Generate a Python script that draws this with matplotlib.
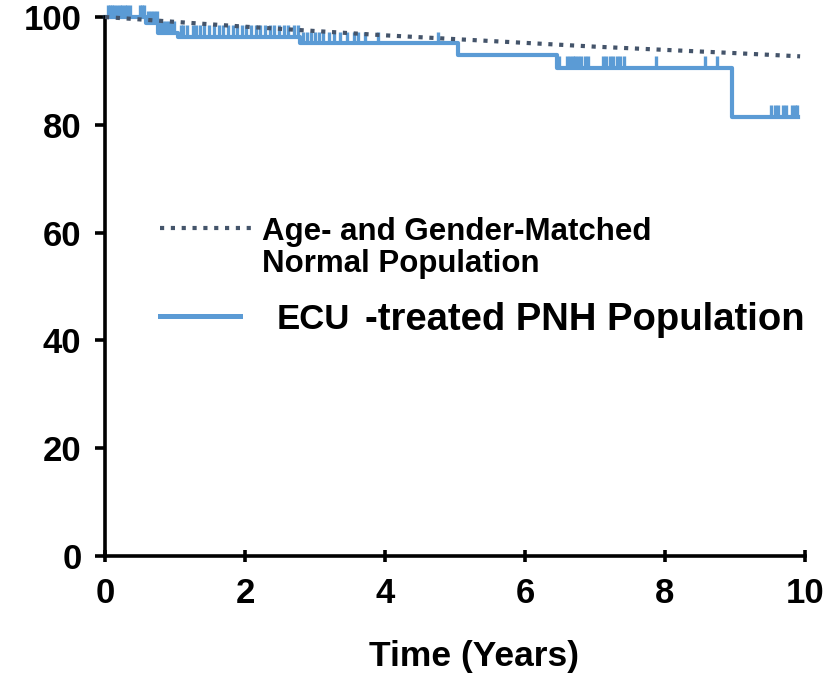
import matplotlib
matplotlib.use("Agg")
import matplotlib.pyplot as plt
import numpy as np
from matplotlib.lines import Line2D

# Kaplan-Meier curve, eculizumab-treated PNH patients
km_times = [0, 0.59, 0.76, 1.04, 2.79, 5.04, 6.45, 8.96, 9.9]
km_surv = [100, 98.9, 97.1, 96.3, 95.1, 93.0, 90.6, 81.5, 81.5]

# censored observations (years)
censor_times = [
    0.04, 0.07, 0.10, 0.13, 0.17, 0.21, 0.24, 0.28, 0.31, 0.35, 0.50, 0.53, 0.56,
    0.62, 0.66, 0.70, 0.74,
    0.79, 0.83, 0.87, 0.91, 0.95, 0.99,
    1.08, 1.12, 1.17, 1.25, 1.30, 1.36, 1.42, 1.49, 1.55, 1.63, 1.68, 1.75,
    1.83, 1.88, 1.95, 2.02, 2.08, 2.15, 2.22, 2.28, 2.35, 2.42, 2.48, 2.55,
    2.62, 2.70, 2.75,
    2.83, 2.88, 2.94, 3.00, 3.06, 3.12, 3.20, 3.27, 3.35, 3.45, 3.55, 3.62,
    3.72, 3.90, 4.75,
    6.49, 6.60, 6.64, 6.68, 6.72, 6.76, 6.80, 6.85, 6.90, 7.12, 7.16, 7.21,
    7.26, 7.31, 7.36, 7.41, 7.87, 8.57, 8.74,
    9.52, 9.57, 9.61, 9.69, 9.73, 9.81, 9.85, 9.89,
]

# age- and gender-matched normal population
norm_times = [0, 1, 2, 3, 4, 5, 6, 7, 8, 9, 9.93]
norm_surv = [100, 99.1, 98.2, 97.4, 96.6, 95.9, 95.2, 94.5, 93.9, 93.3, 92.7]

x_ticks = [0, 2, 4, 6, 8, 10]
y_ticks = [0, 20, 40, 60, 80, 100]

BLUE = "#5b9bd5"
SLATE = "#44546a"
FONT = "Liberation Sans"

W, H = 832, 674
fig = plt.figure(figsize=(W / 100, H / 100), dpi=100)
ax = fig.add_axes([105 / W, 1 - 556 / H, 700 / W, 539 / H])


def fx(px):
    return px / W


def fy(py):
    return 1 - py / H


ax.plot(norm_times, norm_surv, color=SLATE, lw=3.0, dashes=(1, 1.6),
        clip_on=False, zorder=3)
ax.step(km_times, km_surv, where="post", color=BLUE, lw=3.0,
        clip_on=False, zorder=2)

# censor marks sit on top of the step line
idx = np.searchsorted(km_times, censor_times, side="right") - 1
base = np.array(km_surv)[idx]
ax.vlines(censor_times, base, base + 2.2, color=BLUE, lw=2.4, clip_on=False,
          zorder=2)

ax.set_xlim(0, 10)
ax.set_ylim(0, 100)
ax.set_xticks(x_ticks)
ax.set_yticks(y_ticks)
for s in ["top", "right"]:
    ax.spines[s].set_visible(False)
for s in ["left", "bottom"]:
    ax.spines[s].set_linewidth(2.6)
ax.tick_params(axis="y", direction="out", length=7, width=2.6, pad=10)
ax.tick_params(axis="x", direction="inout", length=8, width=2.6, pad=11)
for lab in ax.get_xticklabels() + ax.get_yticklabels():
    lab.set_fontfamily(FONT)
    lab.set_fontweight("bold")
    lab.set_fontsize(25)
ax.set_xlabel("Time (Years)", fontfamily=FONT, fontweight="bold", fontsize=25.5)
ax.xaxis.set_label_coords(0.527, -0.155)

# legend drawn by hand
fig.add_artist(Line2D([fx(160), fx(255)], [fy(228), fy(228)], color=SLATE,
                      lw=3.0, dashes=(1, 1.6)))
fig.add_artist(Line2D([fx(160), fx(240)], [fy(316), fy(316)], color=BLUE,
                      lw=3.6))
fig.text(fx(262), fy(248), "Age- and Gender-Matched\nNormal Population",
         fontfamily=FONT, fontweight="bold", fontsize=22.5, va="center",
         ha="left", linespacing=1.12)
fig.text(fx(277), fy(319), "ECU", fontfamily=FONT,
         fontweight="bold", fontsize=25, va="center", ha="left")
fig.text(fx(805), fy(320), "-treated PNH Population", fontfamily=FONT,
         fontweight="bold", fontsize=27.5, va="center", ha="right")

fig.savefig("out.png", dpi=100)
